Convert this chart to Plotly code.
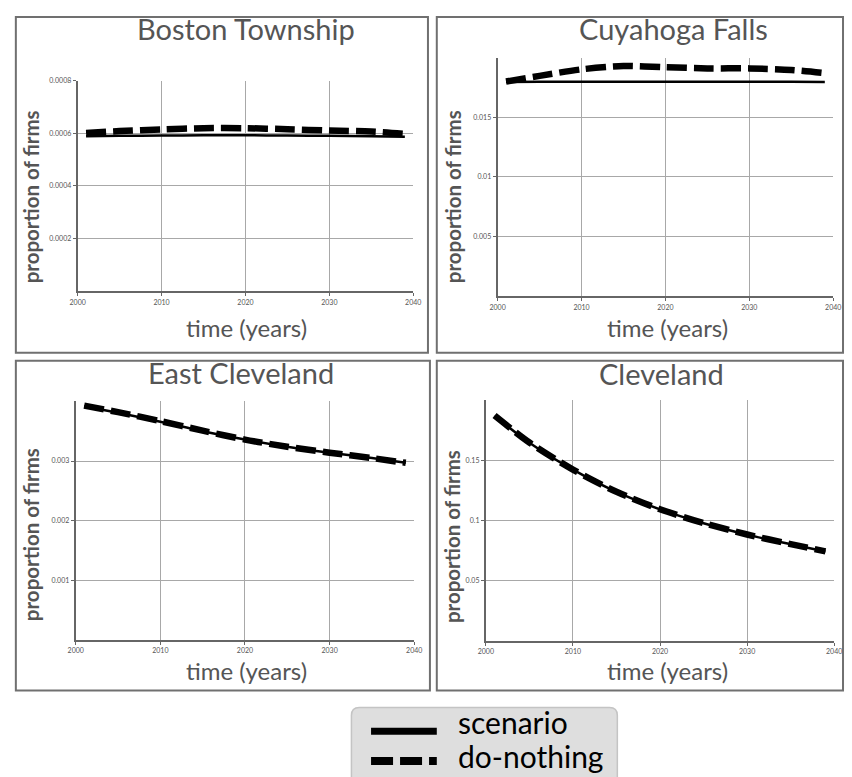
import plotly.graph_objects as go

W, H = 852, 777

years = [2001, 2005, 2010, 2015, 2020, 2025, 2030, 2035, 2039]

panel_titles = ["Boston Township", "Cuyahoga Falls", "East Cleveland", "Cleveland"]

boston_scenario = [0.000588, 0.00059, 0.000591, 0.000592, 0.000592, 0.000591, 0.00059, 0.000588, 0.000586]
boston_donothing = [0.000601, 0.000608, 0.000614, 0.000619, 0.000619, 0.000615, 0.00061, 0.000606, 0.000597]

cuyahoga_scenario = [0.01795, 0.01797, 0.01798, 0.01798, 0.01798, 0.01798, 0.01797, 0.01797, 0.01796]
cuyahoga_donothing = [0.0180, 0.01847, 0.01902, 0.0193, 0.0192, 0.0191, 0.0191, 0.01897, 0.0187]

eastcle_scenario = [0.00392, 0.00381, 0.00366, 0.0035, 0.00336, 0.00324, 0.00314, 0.00305, 0.00297]
eastcle_donothing = [0.00393, 0.00382, 0.00367, 0.00351, 0.00336, 0.00324, 0.00314, 0.00305, 0.00297]

cle_scenario = [0.1872, 0.1648, 0.1424, 0.1239, 0.1094, 0.0979, 0.0884, 0.0804, 0.0744]
cle_donothing = [0.1874, 0.1650, 0.1425, 0.1240, 0.1095, 0.0980, 0.0885, 0.0805, 0.0745]

x_ticks = [2000, 2010, 2020, 2030, 2040]
x_ticklabels = ["2000", "2010", "2020", "2030", "2040"]

y_ticks = [
    [0.0002, 0.0004, 0.0006, 0.0008],
    [0.005, 0.01, 0.015],
    [0.001, 0.002, 0.003],
    [0.05, 0.1, 0.15],
]
y_ticklabels = [
    ["0.0002", "0.0004", "0.0006", "0.0008"],
    ["0.005", "0.01", "0.015"],
    ["0.001", "0.002", "0.003"],
    ["0.05", "0.1", "0.15"],
]
y_ranges = [[0, 0.0008], [0, 0.02], [0, 0.004], [0, 0.2]]

legend_labels = ["scenario", "do-nothing"]

series = [
    (boston_scenario, boston_donothing),
    (cuyahoga_scenario, cuyahoga_donothing),
    (eastcle_scenario, eastcle_donothing),
    (cle_scenario, cle_donothing),
]

# pixel layout helpers
def fx(x):
    return x / W

def fy(y):
    return 1 - y / H

# plot areas (px): x0, x1, ytop, ybottom
areas = [
    (71, 413, 76, 288),
    (499, 841, 53, 293),
    (69, 414, 399, 639),
    (487, 842, 398, 640),
]
boxes = [
    (8, 428, 12, 350),
    (437, 851, 12, 350),
    (8, 430, 358, 690),
    (437, 851, 358, 690),
]
title_pos = [(243, 24), (678, 24), (237, 370), (666, 371)]
ytitle_pos = [(23, 193), (453, 193), (23, 533), (452, 535)]
xtitle_pos = [(243, 325), (672, 325), (243, 670), (672, 670)]

TXT = "#555555"
FONT = "Lato"

fig = go.Figure()
layout = dict(
    width=W, height=H,
    margin=dict(l=0, r=0, t=0, b=0),
    paper_bgcolor="white",
    plot_bgcolor="white",
    showlegend=False,
)

annotations = []
shapes = []

for i in range(4):
    n = i + 1
    xa = "x" if n == 1 else f"x{n}"
    ya = "y" if n == 1 else f"y{n}"
    x0, x1, yt, yb = areas[i]
    scen, dn = series[i]
    fig.add_trace(go.Scatter(
        x=years, y=scen, mode="lines", name=legend_labels[0],
        line=dict(color="black", width=2.5, shape="spline", smoothing=0.8),
        xaxis=xa, yaxis=ya, showlegend=False))
    fig.add_trace(go.Scatter(
        x=years, y=dn, mode="lines", name=legend_labels[1],
        line=dict(color="black", width=6.5, dash="20px,7px", shape="spline", smoothing=0.8),
        xaxis=xa, yaxis=ya, showlegend=False))

    xkey = "xaxis" if n == 1 else f"xaxis{n}"
    ykey = "yaxis" if n == 1 else f"yaxis{n}"
    layout[xkey] = dict(
        domain=[fx(x0), fx(x1)], anchor=ya, range=[2000, 2040],
        tickvals=x_ticks, ticktext=x_ticklabels,
        showgrid=True, gridcolor="#a8a8a8", gridwidth=1,
        showline=True, linecolor="#666666", linewidth=2,
        ticks="outside", ticklen=3, tickcolor="#666666",
        tickfont=dict(family=FONT, size=7, color=TXT),
        zeroline=False, fixedrange=True,
    )
    layout[ykey] = dict(
        domain=[fy(yb), fy(yt)], anchor=xa, range=y_ranges[i],
        tickvals=y_ticks[i], ticktext=y_ticklabels[i],
        showgrid=True, gridcolor="#a8a8a8", gridwidth=1,
        showline=True, linecolor="#666666", linewidth=2,
        ticks="outside", ticklen=3, tickcolor="#666666",
        tickfont=dict(family=FONT, size=7, color=TXT),
        zeroline=False, fixedrange=True,
    )

    bx0, bx1, by0, by1 = boxes[i]
    shapes.append(dict(type="rect", xref="paper", yref="paper",
                       x0=fx(bx0), x1=fx(bx1), y0=fy(by1), y1=fy(by0),
                       line=dict(color="#707070", width=2), fillcolor="rgba(0,0,0,0)",
                       layer="below"))

    tx, ty = title_pos[i]
    annotations.append(dict(text=panel_titles[i], x=fx(tx), y=fy(ty), xref="paper", yref="paper",
                            xanchor="center", yanchor="middle", showarrow=False,
                            font=dict(family=FONT, size=29, color=TXT)))
    ax_, ay_ = ytitle_pos[i]
    annotations.append(dict(text="proportion of firms", x=fx(ax_), y=fy(ay_), xref="paper", yref="paper",
                            xanchor="center", yanchor="middle", showarrow=False, textangle=-90,
                            font=dict(family=FONT, size=20.5, color=TXT, weight="bold")))
    bx_, by_ = xtitle_pos[i]
    annotations.append(dict(text="time (years)", x=fx(bx_), y=fy(by_), xref="paper", yref="paper",
                            xanchor="center", yanchor="middle", showarrow=False,
                            font=dict(family=FONT, size=24, color=TXT)))

# legend box (rounded rectangle)
lx0, lx1, ly0, ly1, r = 350, 621, 707, 790, 8
path = (f"M {fx(lx0 + r)} {fy(ly0)} L {fx(lx1 - r)} {fy(ly0)} "
        f"Q {fx(lx1)} {fy(ly0)} {fx(lx1)} {fy(ly0 + r)} L {fx(lx1)} {fy(ly1)} "
        f"L {fx(lx0)} {fy(ly1)} L {fx(lx0)} {fy(ly0 + r)} "
        f"Q {fx(lx0)} {fy(ly0)} {fx(lx0 + r)} {fy(ly0)} Z")
shapes.append(dict(type="path", xref="paper", yref="paper", path=path,
                   fillcolor="#dedede", line=dict(color="#c4c4c4", width=1.5)))
shapes.append(dict(type="line", xref="paper", yref="paper",
                   x0=fx(370), x1=fx(437), y0=fy(731), y1=fy(731),
                   line=dict(color="black", width=7)))
shapes.append(dict(type="line", xref="paper", yref="paper",
                   x0=fx(370), x1=fx(437), y0=fy(761), y1=fy(761),
                   line=dict(color="black", width=8, dash="22px,7px")))
annotations.append(dict(text=legend_labels[0], x=fx(457), y=fy(722), xref="paper", yref="paper",
                        xanchor="left", yanchor="middle", showarrow=False,
                        font=dict(family=FONT, size=30, color="black")))
annotations.append(dict(text=legend_labels[1], x=fx(457), y=fy(756), xref="paper", yref="paper",
                        xanchor="left", yanchor="middle", showarrow=False,
                        font=dict(family=FONT, size=30, color="black")))

layout["annotations"] = annotations
layout["shapes"] = shapes
fig.update_layout(**layout)

fig.write_html("out.html")
